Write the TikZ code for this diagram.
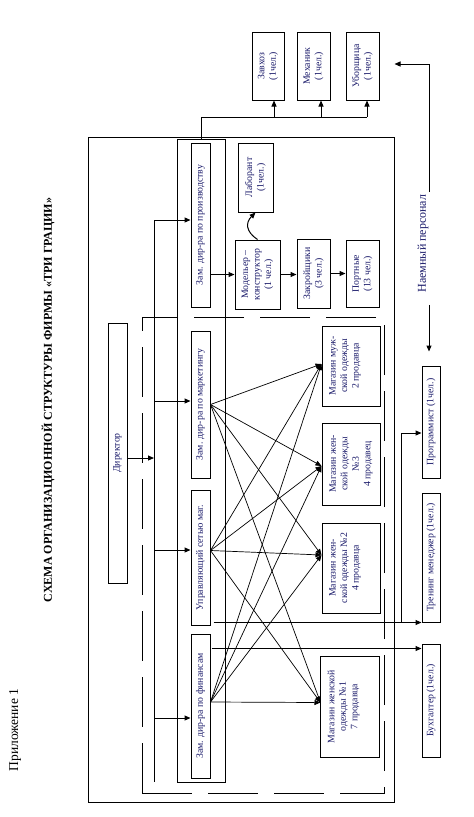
\documentclass[tikz,border=0pt]{standalone}
\usepackage{fontspec}
\setmainfont{Liberation Serif}
\usetikzlibrary{positioning,arrows.meta,calc}
\definecolor{inkblue}{RGB}{25,25,105}

\begin{document}
\begin{tikzpicture}[
  x=1pt, y=-1pt,
  font=\fontsize{9.8}{11.5}\selectfont,
  >={Triangle[length=6pt,width=5pt]},
  line width=1pt,
  staff/.style={draw, rotate=90, align=center, inner sep=1pt, text=inkblue},
  frame/.style={draw, inner sep=0pt, outer sep=0pt},
  dashframe/.style={frame, dash pattern=on 50pt off 16pt},
  link/.style={->, line width=1pt},
  xlink/.style={->, line width=0.7pt},
]
\useasboundingbox (0,0) rectangle (474,817);

% Titles
\node[rotate=90, font=\fontsize{13.5}{16}\selectfont] (app) at (15,730) {Приложение 1};
\node[rotate=90, font=\fontsize{12}{14}\selectfont\bfseries] (title) at (48,400)
  {СХЕМА ОРГАНИЗАЦИОННОЙ СТРУКТУРЫ ФИРМЫ «ТРИ ГРАЦИИ»};

% Frames
\node[frame, minimum width=306, minimum height=665] (firm) at (241,469.5) {};
\node[dashframe, minimum width=242, minimum height=476] (shopzone) at (263,555) {};
\node[frame, minimum width=48, minimum height=643] (deps) at (201,460.5) {};

% Hired staff on top
\node[staff, minimum width=68, minimum height=32] (zavhoz) at (268,66) {Завхоз\\(1чел.)};
\node[staff, minimum width=68, minimum height=33] (mehanik) at (313.5,66) {Механик\\(1чел.)};
\node[staff, minimum width=68, minimum height=33] (uborsh) at (362.5,66) {Уборщица\\(1чел.)};

% Director and deputies
\node[staff, minimum width=260, minimum height=19] (dir) at (117.5,453) {Директор};
\node[staff, minimum width=164, minimum height=19] (prod) at (200.5,225) {Зам. дир-ра по производству};
\node[staff, minimum width=147, minimum height=19] (mark) at (200.5,404.5) {Зам. дир-ра по маркетингу};
\node[staff, minimum width=135, minimum height=19] (upr) at (200.5,557.5) {Управляющий сетью маг.};
\node[staff, minimum width=144, minimum height=19] (fin) at (200.5,706) {Зам. дир-ра по финансам};

% Production
\node[staff, minimum width=69, minimum height=35] (laborant) at (255.5,177.5) {Лаборант\\(1чел.)};
\node[staff, minimum width=69, minimum height=45] (modeler) at (257.5,274.5) {Модельер –\\конструктор\\(1 чел.)};
\node[staff, minimum width=69, minimum height=33] (zakr) at (313.5,273.5) {Закройщики\\(3 чел.)};
\node[staff, minimum width=67, minimum height=33] (portn) at (362.5,273.5) {Портные\\(13 чел.)};

% Shops
\node[staff, minimum width=80, minimum height=58, text depth=14pt] (muzh) at (351,366) {Магазин муж-\\ской одежды\\2 продавца};
\node[staff, minimum width=82, minimum height=58] (zh3) at (351,464) {Магазин жен-\\ской одежды\\№3\\4 продавец};
\node[staff, minimum width=90, minimum height=58, text depth=14pt] (zh2) at (351,568) {Магазин жен-\\ской одежды №2\\4 продавца};
\node[staff, minimum width=101, minimum height=59, text depth=14pt] (zh1) at (349.5,706.5) {Магазин женской\\одежды №1\\7 продавца};

% Right column
\node[rotate=90, inner sep=0pt, text=inkblue, font=\fontsize{12}{14}\selectfont] (naem) at (423,243.5) {Наемный персонал};
\node[staff, minimum width=112, minimum height=18] (prog) at (431,422) {Программист (1чел.)};
\node[staff, minimum width=129, minimum height=18] (trening) at (431,557.5) {Тренинг менеджер (1чел.)};
\node[staff, minimum width=113, minimum height=18] (buh) at (431,700.5) {Бухгалтер (1чел.)};

% Top bus to hired staff
\coordinate (tb) at ($(deps.north)+(0,-22)$);
\coordinate (zavin) at ($(zavhoz.west)+(6,0)$);
\coordinate (mehin) at ($(mehanik.west)+(7.5,0)$);
\coordinate (uboin) at ($(uborsh.west)+(4.5,0)$);
\draw (deps.north) -- (tb) -- (tb -| uboin);
\draw[link] (tb -| zavin) -- (zavin);
\draw[link] (tb -| mehin) -- (mehin);
\draw[link] (tb -| uboin) -- (uboin);

% Director bus
\coordinate (bustop) at (154,220);
\coordinate (busbot) at (154,782);
\draw (bustop) -- (busbot);
\coordinate (d1) at ($(dir.south)+(0,5)$);
\draw[link] (d1) -- (d1 -| bustop);
\coordinate (p1) at ($(prod.north)+(0,-5)$);
\coordinate (p2) at ($(mark.north)+(0,-3.5)$);
\coordinate (p3) at ($(upr.north)+(0,-7.5)$);
\coordinate (p4) at ($(fin.north)+(0,12)$);
\draw[link] (p1 -| bustop) -- (p1);
\draw[link] (p2 -| bustop) -- (p2);
\draw[link] (p3 -| bustop) -- (p3);
\draw[link] (p4 -| bustop) -- (p4);

% Production chain
\draw[link] (prod.south |- modeler.north) -- (modeler.north);
\draw[link] (modeler.south) -- (modeler.south -| zakr.north);
\draw[link] (zakr.south) -- (zakr.south -| portn.north);
\draw[link] (modeler.east) .. controls +(-12,-8) and +(-10,10) .. (laborant.west);

% Deputies -> shops
\coordinate (s1) at (mark.south);
\coordinate (s2) at ($(upr.south)+(0,-7)$);
\coordinate (s3) at ($(fin.south)+(0,-4)$);
\coordinate (t1) at ($(muzh.north)+(0,-2)$);
\coordinate (t2) at ($(zh3.north)+(0,2)$);
\coordinate (t3) at ($(zh2.north)+(0,-13)$);
\coordinate (t4) at ($(zh1.north)+(1,-4)$);
\draw[xlink] (s1) -- (t1);
\draw[xlink] (s1) -- (t2);
\draw[xlink] (s1) -- (t3);
\draw[xlink] (s1) -- (t4);
\draw[xlink] (s2) -- (t1);
\draw[xlink] (s2) -- (t2);
\draw[xlink] (s2) -- (t3);
\draw[xlink] (s2) -- (t4);
\draw[xlink] (s3) -- (t1);
\draw[xlink] (s3) -- (t2);
\draw[xlink] (s3) -- (t3);
\draw[xlink] (s3) -- (t4);

% Hired personnel arrows
\draw[link] ($(naem.east)+(6,-2)$) |- ($(uborsh.south)+(15,-2)$);
\draw[link] ($(naem.west)+(6,12)$) -- ($(prog.east)+(-2,-14)$);

% Right column links
\coordinate (split) at ($(trening.north west)+(-20,0)$);
\draw[link] ($(upr.south west)+(3,-3)$) -- (trening.north west);
\draw[link] (split) |- ($(prog.north)+(0,11)$);
\draw[link] ($(fin.south east)+(1,15)$) -- ($(buh.north east)+(0,5)$);

\end{tikzpicture}
\end{document}
